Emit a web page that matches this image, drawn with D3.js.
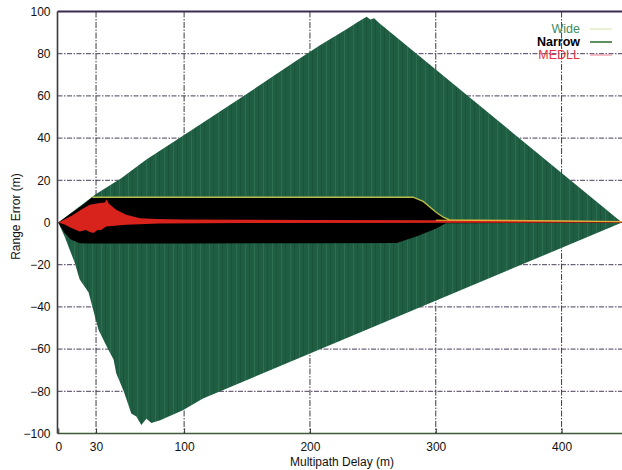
<!DOCTYPE html>
<html>
<head>
<meta charset="utf-8">
<script src="https://cdn.jsdelivr.net/npm/d3@7"></script>
<style>
  html, body { margin: 0; padding: 0; background: #fff; }
  svg { display: block; font-family: "Liberation Sans", Arial, sans-serif; }
</style>
</head>
<body>
<svg id="chart" width="622" height="470"></svg>
<script>
// Multipath error envelopes: delay (m) vs. range error (m)
const wideUpper = [[0,0],[30,13.5],[50,21],[70,29.8],[100,41.5],[150,61],[190,77],[208,84],[230,92],[238,95],[242,96.5],[245,97.5],[248,96.2],[251,96.8],[255,94.5],[448,0]];
const wideLower = [[0,0],[5,-6.6],[13,-19],[17,-27],[24,-33],[32,-51],[40,-60.5],[44,-65],[46,-71.5],[52,-80],[58,-90.5],[62,-92],[66,-96],[70,-93],[74,-95],[81,-93.7],[99,-89],[115,-83.4],[448,0]];

const narrowUpper = [[0,0],[20,8.5],[27,12],[100,12],[200,12],[282,12],[290,10],[300,5],[306,2.5],[311,1.2],[448,0.4]];
const narrowLower = [[0,0],[5,-5],[10,-8],[17,-9.8],[25,-10],[100,-10],[200,-9.8],[269,-9.7],[285,-6.5],[300,-3],[308,-0.3],[448,0]];

const medllUpper = [[0,0],[6,1.8],[12,3.7],[18,6],[25,8.4],[33,9.2],[37,9.5],[38.4,11],[40,9],[46,6],[54,3.7],[65,2],[78,1.6],[100,1.4],[200,1.2],[300,1.1],[448,0.4]];
const medllLower = [[0,0],[5,-1],[10,-2.5],[17,-4.3],[22,-3.6],[25,-4.5],[28,-5],[31,-3.5],[34,-3.5],[38,-1.9],[54,-1.1],[80,-0.5],[150,-0.2],[448,0]];

const xTicks = [0, 30, 100, 200, 300, 400];
const yTicks = [-100, -80, -60, -40, -20, 0, 20, 40, 60, 80, 100];
const legendItems = [
  { name: "Wide",   text: "#3f8a5c", line: "#e2efc4", bold: false },
  { name: "Narrow", text: "#000000", line: "#2d6a2a", bold: true },
  { name: "MEDLL",  text: "#e8343e", line: "#f2a6b4", bold: false }
];

const svg = d3.select("#chart");
const pLeft = 57.5, pRight = 624.5, pTop = 11.5, pBottom = 433.5;
const x = d3.scaleLinear().domain([0, 450]).range([pLeft + 0.8, pRight]);
const y = d3.scaleLinear().domain([-100, 100]).range([pBottom, pTop]);

// streaky fill for the wide-correlator envelope
const defs = svg.append("defs");
const pat = defs.append("pattern").attr("id", "streak").attr("patternUnits", "userSpaceOnUse")
  .attr("width", 9).attr("height", 10);
pat.append("rect").attr("width", 9).attr("height", 10).attr("fill", "#1f5e43");
pat.append("rect").attr("x", 2).attr("width", 1).attr("height", 10).attr("fill", "#2b6e50");
pat.append("rect").attr("x", 6).attr("width", 1).attr("height", 10).attr("fill", "#195339");

// grid
const grid = svg.append("g");
grid.selectAll("line.h").data(yTicks.filter(v => v > -100 && v < 100)).join("line")
  .attr("x1", pLeft).attr("x2", pRight).attr("y1", d => y(d)).attr("y2", d => y(d))
  .attr("stroke", "#4b3d5c").attr("stroke-width", 1).attr("stroke-dasharray", "5,1.5,1.5,1.5");
grid.selectAll("line.v").data(xTicks.filter(v => v > 0)).join("line")
  .attr("y1", pTop).attr("y2", pBottom).attr("x1", d => x(d)).attr("x2", d => x(d))
  .attr("stroke", "#3c3c44").attr("stroke-width", 1).attr("stroke-dasharray", "6,1.5,1.5,1.5");

// envelopes
function band(upper, lower) {
  const pts = upper.map(p => [x(p[0]), y(p[1])])
    .concat(lower.slice().reverse().map(p => [x(p[0]), y(p[1])]));
  return d3.line()(pts) + "Z";
}
const line = d3.line().x(d => x(d[0])).y(d => y(d[1]));

svg.append("path").attr("d", band(wideUpper, wideLower)).attr("fill", "url(#streak)");
svg.append("path").attr("d", band(narrowUpper, narrowLower)).attr("fill", "#000");
svg.append("path").attr("d", line(narrowUpper.filter(p => p[0] >= 24)))
  .attr("fill", "none").attr("stroke", "#b9bd4a").attr("stroke-width", 1.4);
svg.append("path").attr("d", band(medllUpper, medllLower)).attr("fill", "#d8231c");
svg.append("path").attr("d", line(medllUpper.filter(p => p[0] >= 300)))
  .attr("fill", "none").attr("stroke", "#e9b23a").attr("stroke-width", 1);

// frame
svg.append("line").attr("x1", pLeft).attr("x2", pRight).attr("y1", pTop).attr("y2", pTop)
  .attr("stroke", "#3b2b4e").attr("stroke-width", 2);
svg.append("line").attr("x1", pLeft).attr("x2", pRight).attr("y1", pBottom).attr("y2", pBottom)
  .attr("stroke", "#3f5a3a").attr("stroke-width", 1.6);
svg.append("line").attr("x1", pLeft).attr("x2", pLeft).attr("y1", pTop).attr("y2", pBottom)
  .attr("stroke", "#3a3a42").attr("stroke-width", 1.6);

// axes
const xAxis = svg.append("g").attr("transform", `translate(0,${pBottom})`)
  .call(d3.axisBottom(x).tickValues(xTicks).tickSize(-5).tickPadding(10));
const yAxis = svg.append("g").attr("transform", `translate(${pLeft},0)`)
  .call(d3.axisLeft(y).tickValues(yTicks).tickSize(0).tickPadding(7));
[xAxis, yAxis].forEach(a => {
  a.select(".domain").remove();
  a.selectAll("line").attr("stroke", "#333");
  a.selectAll("text").attr("font-size", 12).attr("fill", "#111")
    .attr("font-family", "'Liberation Sans', Arial, sans-serif");
});
xAxis.selectAll("text").attr("dy", "0.6em");

svg.append("text").attr("x", (pLeft + pRight) / 2 + 1).attr("y", 466)
  .attr("text-anchor", "middle").attr("font-size", 12).attr("fill", "#111")
  .text("Multipath Delay (m)");
svg.append("text").attr("transform", `translate(20,${y(0) - 6}) rotate(-90)`)
  .attr("text-anchor", "middle").attr("font-size", 12).attr("fill", "#111")
  .text("Range Error (m)");

// legend
const lg = svg.append("g");
legendItems.forEach((d, i) => {
  const yy = 33 + i * 13;
  lg.append("text").attr("x", 580).attr("y", yy).attr("text-anchor", "end")
    .attr("font-size", 12.5).attr("font-weight", d.bold ? "bold" : "normal")
    .attr("fill", d.text).text(d.name);
  lg.append("line").attr("x1", 590).attr("x2", 612).attr("y1", yy - 4).attr("y2", yy - 4)
    .attr("stroke", d.line).attr("stroke-width", 1.5);
});
</script>
</body>
</html>
